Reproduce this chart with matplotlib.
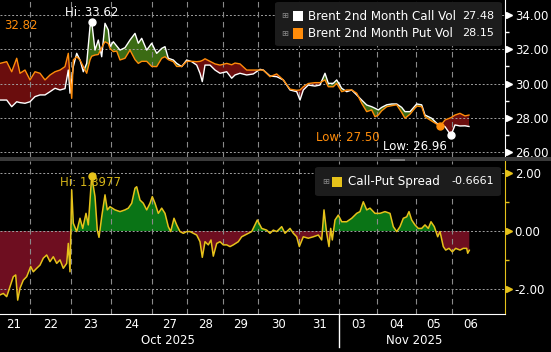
import numpy as np
import matplotlib.pyplot as plt
from matplotlib.patches import Rectangle, FancyBboxPatch
from matplotlib.ticker import MultipleLocator, FormatStrFormatter

plt.rcParams['font.family'] = 'DejaVu Sans'
plt.rcParams['axes.unicode_minus'] = False

# intraday bar index (weekend gaps removed) and the two vol series
bars = [0, 6.7, 11.7, 16.7, 20, 25, 30, 35, 40, 45, 50, 55, 60, 65, 68.3, 70, 71.7, 73.3, 76.7, 80,
        83.3, 86.7, 90, 91.7, 95, 98.3, 101.7, 105, 108.3, 110, 113.3, 116.7, 120, 125, 130, 135,
        138.3, 141.7, 146.7, 151.7, 156.7, 161.7, 165, 168.3, 173.3, 176.7, 181.7, 186.7, 191.7,
        196.7, 200, 202.3, 205, 210, 215, 220, 226.7, 231.7, 235, 240, 246.7, 253.3, 260, 263.3,
        270, 276.7, 283.3, 290, 296.7, 300, 303.3, 308.3, 315, 320, 325, 328.3, 333.3, 336.7,
        341.7, 346.7, 351.7, 356.7, 361.7, 366.7, 371.7, 375, 378.3, 381.7, 386.7, 391.7, 396.7,
        401.7, 405, 410, 416.7, 421.7, 425, 431.7, 436.7, 440, 445, 451, 455, 460, 465, 469]
call_vol = [29.03, 29.03, 28.64, 28.93, 28.88, 28.84, 28.93, 29.23, 29.33, 29.33, 29.52, 29.72,
            29.62, 29.70, 30.79, 29.43, 30.21, 30.99, 31.77, 31.38, 30.69, 31.18, 33.33, 33.62,
            31.96, 32.55, 31.57, 33.53, 33.14, 32.16, 32.45, 32.20, 31.96, 32.10, 32.55, 32.94,
            32.36, 32.65, 31.96, 32.36, 31.77, 32.06, 32.16, 31.48, 31.38, 31.18, 30.99, 31.38,
            31.28, 31.08, 30.60, 30.11, 31.08, 31.08, 30.79, 30.60, 30.69, 30.31, 30.50, 30.60,
            30.50, 30.56, 30.83, 30.79, 30.44, 30.40, 30.21, 29.62, 29.52, 29.03, 29.62, 29.91,
            29.85, 29.91, 30.60, 30.01, 30.01, 30.21, 29.72, 29.52, 29.62, 29.33, 29.03, 28.74,
            28.64, 28.55, 28.45, 28.60, 28.75, 28.80, 28.80, 28.60, 28.35, 28.35, 28.80, 28.75,
            28.15, 27.96, 27.67, 27.55, 27.47, 26.96, 27.57, 27.51, 27.52, 27.48]
put_vol = [31.18, 31.28, 30.69, 31.48, 30.60, 30.79, 30.21, 30.69, 30.60, 30.21, 30.50, 30.69,
           30.79, 30.99, 31.77, 30.40, 29.13, 31.38, 31.57, 31.38, 30.99, 30.60, 31.38, 31.60,
           31.67, 31.70, 32.10, 32.45, 32.35, 32.06, 31.87, 31.90, 31.38, 31.48, 31.96, 31.40,
           31.18, 31.30, 31.30, 31.00, 30.99, 31.48, 31.57, 31.40, 31.28, 31.00, 31.00, 31.30,
           31.30, 31.28, 31.30, 31.35, 31.45, 31.30, 31.15, 31.08, 31.18, 31.10, 31.20, 31.15,
           30.79, 30.79, 30.79, 30.79, 30.40, 30.56, 30.21, 29.67, 29.60, 29.62, 29.81, 30.00,
           30.05, 30.05, 30.21, 29.81, 29.81, 30.01, 29.52, 29.62, 29.62, 29.43, 28.84, 28.35,
           28.45, 28.05, 28.15, 28.40, 28.64, 28.70, 28.75, 28.30, 27.96, 28.20, 28.68, 28.64,
           28.05, 27.80, 27.62, 27.50, 27.86, 28.00, 28.15, 28.25, 28.10, 28.15]

spread_bars = [0, 3.3, 6.7, 10, 13.3, 15.7, 17.7, 20, 23.3, 26.7, 30.7, 33.3, 36.7, 40, 43.3, 46.7,
               50, 53.3, 56.7, 60, 63.3, 66.7, 68.3, 70, 71.7, 73.3, 76.7, 80, 82.7, 86, 88.3,
               91.7, 95, 97.3, 99, 101.7, 105, 107.3, 110, 115, 120, 125, 128.3, 131.7, 135,
               136.7, 140, 143.3, 146.7, 150, 152.3, 155, 158.3, 161.7, 165, 168.3, 170.7, 174,
               176.7, 180, 183.3, 186.7, 190, 193.3, 196.7, 200, 202.3, 205, 208.3, 211, 213.3,
               216.7, 220, 223.3, 226.7, 230, 233.3, 238.3, 241.7, 245, 248.3, 251.7, 257.3,
               261.7, 266.7, 270, 273.3, 276.7, 281.7, 285, 290, 293.3, 296.7, 299.3, 303.3,
               308.3, 313.3, 318.3, 321.7, 324, 326.7, 329, 330.7, 332.3, 335, 338.3, 341.7,
               346.7, 351.7, 356.7, 360, 363.3, 366.7, 370, 375, 380, 385, 390, 393.3, 396.7,
               400, 403.3, 406.7, 409, 411.7, 415, 418.3, 421.7, 425, 428.3, 431, 434.3, 437.7,
               440, 443.3, 445.7, 449, 452.3, 455.7, 460, 463.3, 466.7, 467.7, 469.3]
spread = [-2.21, -2.16, -2.27, -1.93, -1.58, -1.52, -2.39, -1.98, -1.70, -1.58, -1.23, -1.41,
          -1.29, -1.18, -0.94, -0.83, -1.06, -0.89, -1.12, -1.00, -1.29, -1.12, -0.43, -1.41,
          1.42, 0.27, -0.02, 0.44, 0.09, 0.61, 0.21, 1.8977, 1.19, 0.03, -0.22, 0.49, 1.25, 0.73,
          0.84, 0.73, 0.67, 0.73, 0.79, 0.96, 1.48, 1.53, 1.07, 0.96, 0.73, 0.96, 1.19, 0.96,
          0.61, 0.79, 0.61, 0.15, -0.02, 0.44, 0.21, -0.02, -0.08, -0.02, -0.02, -0.08, -0.14,
          -0.37, -0.91, -0.37, -0.48, -0.31, -0.87, -0.43, -0.37, -0.48, -0.48, -0.54, -0.48,
          -0.37, -0.20, -0.14, -0.08, -0.02, 0.38, 0.09, 0.03, -0.08, 0.03, -0.02, 0.15, -0.08,
          0.09, -0.08, -0.20, -0.54, -0.20, -0.25, -0.20, -0.14, -0.31, 0.73, -0.08, -0.54, 0.09,
          -0.31, 0.38, 0.55, 0.32, 0.32, 0.44, 0.61, 0.67, 1.01, 0.73, 0.79, 0.61, 0.61, 0.67,
          0.61, 0.15, -0.02, 0.15, 0.44, 0.49, 0.67, 0.38, 0.21, 0.09, 0.09, 0.21, 0.09, 0.32,
          0.15, -0.20, -0.02, -0.54, -0.66, -0.60, -0.72, -0.60, -0.66, -0.60, -0.60, -0.77, -0.6661]

day_labels = ['21', '22', '23', '24', '27', '28', '29', '30', '31', '03', '04', '05', '06']
day_edges = [-4, 30.3, 71, 111, 152.3, 187.3, 223.3, 258.3, 299.3, 339.3, 377, 415.7, 451.7, 490]
month_labels = ['Oct 2025', 'Nov 2025']
month_edges = [-4, 339.3, 490]

call_last, put_last, spread_last = 27.48, 28.15, -0.6661
call_hi, call_lo, put_lo = 33.62, 26.96, 27.50

W, H = 551, 352
ORANGE = '#ff8c0a'
YELLOW = '#e6c21a'
FS = 8.5

bars = np.array(bars)
call_vol = np.array(call_vol)
put_vol = np.array(put_vol)
spread_bars = np.array(spread_bars)
spread = np.array(spread)

fig = plt.figure(figsize=(W / 100, H / 100), dpi=100, facecolor='black')
ax1 = fig.add_axes([0, 1 - 157 / H, 505 / W, 157 / H])
ax2 = fig.add_axes([0, 1 - 314 / H, 505 / W, 153 / H])

for ax in (ax1, ax2):
    ax.set_facecolor('black')
    ax.set_xlim(0, 505)
    for s in ['top', 'left', 'bottom']:
        ax.spines[s].set_visible(False)
    ax.yaxis.tick_right()
    ax.yaxis.set_major_formatter(FormatStrFormatter('%.2f'))
    ax.tick_params(axis='y', which='major', length=0, pad=7, labelcolor='white', labelsize=FS)
    ax.tick_params(axis='y', which='minor', length=3, width=1, direction='out')
    ax.grid(axis='y', which='major', color='#a0a0a0', lw=0.7, ls=(0, (2, 2)), zorder=2)
    for e in day_edges[1:-1]:
        ax.axvline(e, color='#8a8a8a', lw=0.8, ls=(0, (5, 4)), zorder=2)

# top panel: call vs put vol
ax1.set_ylim(25.69, 34.897)
ax1.yaxis.set_major_locator(MultipleLocator(2))
ax1.yaxis.set_minor_locator(MultipleLocator(1))
ax1.tick_params(axis='y', which='minor', color='white')
ax1.spines['right'].set_color('white')
ax1.set_xticks([])
ax1.fill_between(bars, call_vol, put_vol, where=call_vol >= put_vol, interpolate=True,
                 color='#3b6b14', lw=0, zorder=1)
ax1.fill_between(bars, call_vol, put_vol, where=call_vol < put_vol, interpolate=True,
                 color='#6a0d0d', lw=0, zorder=1)
ax1.plot(bars, call_vol, color='white', lw=1, zorder=3)
ax1.plot(bars, put_vol, color=ORANGE, lw=1, zorder=3)
ax1.plot(np.ones(5) * 1.007, [26, 28, 30, 32, 34], transform=ax1.get_yaxis_transform(),
         marker='>', ls='none', ms=5, color='white', clip_on=False)

i_hi = int(np.argmax(call_vol))
i_lo = int(np.argmin(call_vol))
j_lo = int(np.argmin(put_vol))
ax1.plot(bars[i_hi], call_vol[i_hi], 'o', color='white', ms=5, zorder=4)
ax1.plot(bars[i_lo], call_vol[i_lo], 'o', color='white', ms=5, zorder=4)
ax1.plot(bars[j_lo], put_vol[j_lo], 'o', color=ORANGE, ms=5, zorder=4)
ax1.text(bars[i_hi], 34.19, 'Hi: %.2f' % call_hi, color='white', fontsize=FS,
         ha='center', va='center', zorder=5)
ax1.text(4, 33.43, '32.82', color=ORANGE, fontsize=FS, ha='left', va='center')
ax1.text(316, 26.86, 'Low: %.2f' % put_lo, color=ORANGE, fontsize=FS, ha='left', va='center')
ax1.text(383, 26.33, 'Low: %.2f' % call_lo, color='white', fontsize=FS, ha='left', va='center')

# bottom panel: call-put spread
ax2.set_ylim(-2.87, 2.42)
ax2.yaxis.set_major_locator(MultipleLocator(2))
ax2.yaxis.set_minor_locator(MultipleLocator(1))
ax2.tick_params(axis='y', which='minor', color=YELLOW)
ax2.spines['right'].set_color(YELLOW)
ax2.spines['bottom'].set_visible(True)
ax2.spines['bottom'].set_color('white')
ax2.fill_between(spread_bars, spread, 0, where=spread >= 0, interpolate=True,
                 color='#0a7416', lw=0, zorder=1)
ax2.fill_between(spread_bars, spread, 0, where=spread < 0, interpolate=True,
                 color='#6e0e20', lw=0, zorder=1)
ax2.plot(spread_bars, spread, color=YELLOW, lw=1.1, zorder=3)
ax2.plot(np.ones(3) * 1.007, [-2, 0, 2], transform=ax2.get_yaxis_transform(),
         marker='>', ls='none', ms=5, color=YELLOW, clip_on=False)
k_hi = int(np.argmax(spread))
ax2.text(60, 1.66, 'Hi: %.4f' % spread[k_hi], color='#d4b418', fontsize=FS,
         ha='left', va='center', zorder=4)
ax2.plot(spread_bars[k_hi], spread[k_hi], 'o', color=YELLOW, ms=5, zorder=5)

mids = [(a + b) / 2 for a, b in zip(day_edges[:-1], day_edges[1:])]
ax2.set_xticks(mids, day_labels)
ax2.tick_params(axis='x', length=0, pad=3, labelcolor='white', labelsize=FS)
for k, lab in enumerate(month_labels):
    ax2.text((month_edges[k] + month_edges[k + 1]) / 2, -0.17, lab, color='white', fontsize=FS,
             ha='center', va='center', transform=ax2.get_xaxis_transform())
ax2.plot([month_edges[1]] * 2, [0, -0.216], color='white', lw=1,
         transform=ax2.get_xaxis_transform(), clip_on=False)

# panel divider
fig.add_artist(Rectangle((0, 1 - 161.5 / H), 1, 4 / H, transform=fig.transFigure,
                         color='#3a3a3a', lw=0))
fig.add_artist(Rectangle((390 / W, 1 - 160.5 / H), 15 / W, 2 / H, transform=fig.transFigure,
                         color='#7a7a7a', lw=0))


# legends
def legend_box(x0, y0, x1, y1):
    fig.add_artist(FancyBboxPatch((x0 / W, 1 - y1 / H), (x1 - x0) / W, (y1 - y0) / H,
                                  boxstyle='round,pad=0,rounding_size=0.006',
                                  transform=fig.transFigure, fc='#1c1c1c', ec='none', zorder=6))


def legend_row(y, icon_x, sq_x, text_x, color, label, value):
    fy = 1 - y / H
    fig.text(icon_x / W, fy, '\u229e', color='#8a8a8a', fontsize=6, ha='center', va='center',
             zorder=7)
    fig.add_artist(Rectangle((sq_x / W, 1 - (y + 5) / H), 10 / W, 10 / H,
                             transform=fig.transFigure, color=color, lw=0, zorder=7))
    fig.text(text_x / W, fy, label, color='white', fontsize=8.6, ha='left', va='center', zorder=7)
    fig.text(494 / W, fy, value, color='white', fontsize=8, ha='right', va='center', zorder=7)


legend_box(275, 2, 502, 46)
legend_row(16, 285, 293, 308, 'white', 'Brent 2nd Month Call Vol', '%.2f' % call_last)
legend_row(33.5, 285, 293, 308, ORANGE, 'Brent 2nd Month Put Vol', '%.2f' % put_last)
legend_box(315, 167, 501, 196)
legend_row(181.5, 325.5, 332, 348, YELLOW, 'Call-Put Spread', '%.4f' % spread_last)

fig.savefig('out.png', dpi=100, facecolor='black')
